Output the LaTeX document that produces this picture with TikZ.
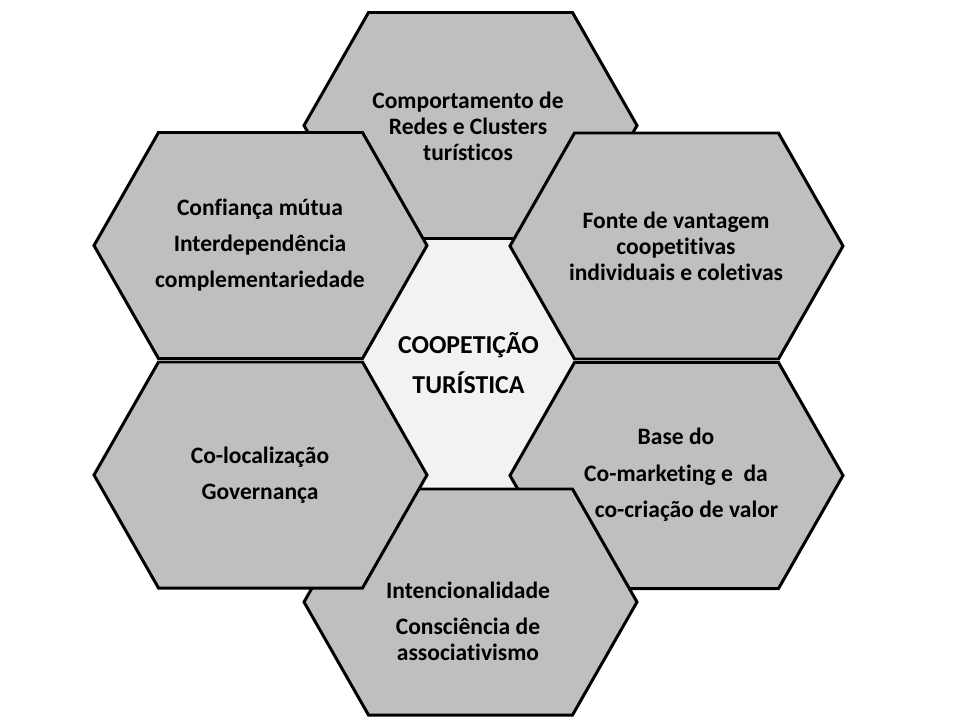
\documentclass[tikz,border=0pt]{standalone}
\usepackage{fontspec}
\setmainfont{Carlito}[Ligatures={NoCommon}]
\usetikzlibrary{positioning}
\definecolor{cellgray}{HTML}{BFBFBF}
\definecolor{coregray}{HTML}{F2F2F2}
\tikzset{
  hexline/.style  = {draw=black, line width=1.7pt, fill=cellgray, line join=miter},
  hexcell/.pic    = {\path[hexline] (-166.5,0) -- (-102,-113) -- (102,-113)
                       -- (166.5,0) -- (102,113) -- (-102,113) -- cycle;},
  celltext/.style = {align=center, font=\fontsize{13.4pt}{14.7pt}\selectfont\bfseries,
                     inner sep=0pt},
  coretext/.style = {align=center, font=\fontsize{14.7pt}{15.5pt}\selectfont\bfseries,
                     inner sep=0pt},
}

\begin{document}
\begin{tikzpicture}[x=0.02cm, y=-0.02cm]
    \useasboundingbox (0,0) rectangle (960,720);

    % --- core fill (the gap between the cells) ------------------------------
    \fill[coregray] (420,239) -- (516,239) -- (576,360) -- (516,489)
      -- (420,489) -- (362,360) -- cycle;

    % --- cells, back to front -----------------------------------------------
    \pic at (470.5,125.5) {hexcell};
    \pic at (260.5,245.5) {hexcell};
    \pic at (676.5,246)   {hexcell};
    \pic at (676.5,475.5) {hexcell};
    \pic at (470.5,602)   {hexcell};
    \pic at (260.5,475)   {hexcell};

    % --- texts --------------------------------------------------------------
    \node[coretext] (core) at (468.5,363)
      {COOPETIÇÃO\\[7pt]TURÍSTICA};
    \node[celltext] (redes) at (468,126)
      {Comportamento de\\Redes e Clusters\\turísticos};
    \node[celltext] (confianca) at (260,245)
      {Confiança mútua\\[6pt]Interdependência\\[6pt]complementariedade};
    \node[celltext] (fonte) at (676,246)
      {Fonte de vantagem\\coopetitivas\\individuais e coletivas};
    \node[celltext] (colocal) at (260,475.5)
      {Co-localização\\[6pt]Governança};
    \node[celltext] (base) at (676,475)
      {Base do\\[6pt]Co-marketing e \ da\\[6pt]\hspace*{12pt}co-criação de valor};
    \node[celltext] (intencao) at (468,621.5)
      {Intencionalidade\\[6pt]Consciência de\\associativismo};
\end{tikzpicture}
\end{document}
